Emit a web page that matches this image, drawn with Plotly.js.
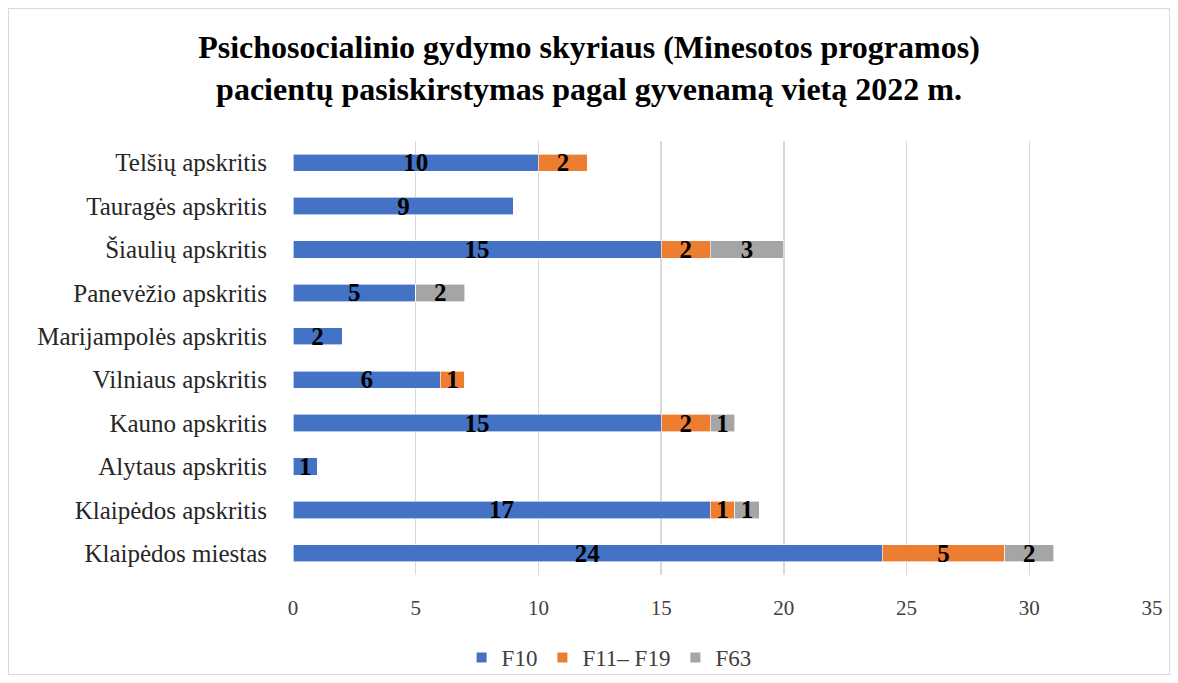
<!DOCTYPE html>
<html>
<head>
<meta charset="utf-8">
<script src="https://cdn.plot.ly/plotly-3.0.1.min.js"></script>
<style>
  html, body { margin: 0; padding: 0; background: #ffffff; }
  #wrap { position: relative; width: 1178px; height: 683px; }
  #chart { width: 1178px; height: 683px; }
  #frame { position: absolute; left: 8px; top: 8px; width: 1162px; height: 667px;
           border: 1.5px solid #d9d9d9; box-sizing: border-box; pointer-events: none; }
</style>
</head>
<body>
<div id="wrap">
  <div id="chart"></div>
  <div id="frame"></div>
</div>
<script>
const categories = [
  "Klaipėdos miestas",
  "Klaipėdos apskritis",
  "Alytaus apskritis",
  "Kauno apskritis",
  "Vilniaus apskritis",
  "Marijampolės apskritis",
  "Panevėžio apskritis",
  "Šiaulių apskritis",
  "Tauragės apskritis",
  "Telšių apskritis"
];
const seriesNames = ["F10", "F11– F19", "F63"];
const f10 = [24, 17, 1, 15, 6, 2, 5, 15, 9, 10];
const f11_19 = [5, 1, 0, 2, 1, 0, 0, 2, 0, 2];
const f63 = [2, 1, 0, 1, 0, 0, 2, 3, 0, 0];
const colors = ["#4472C4", "#ED7D31", "#A5A5A5"];
const xTicks = [0, 5, 10, 15, 20, 25, 30, 35];

const serif = "'Liberation Serif', 'Times New Roman', serif";

function makeTrace(name, vals, color) {
  return {
    type: "bar",
    orientation: "h",
    name: name,
    y: categories,
    x: vals,
    text: vals.map(v => v > 0 ? String(v) : ""),
    textposition: "inside",
    insidetextanchor: "middle",
    constraintext: "none",
    textangle: 0,
    textfont: { family: serif, size: 25, color: "#000000", weight: "bold" },
    marker: { color: color, line: { color: "#ffffff", width: 0.6 } },
    hoverinfo: "x+y+name"
  };
}

const data = [
  makeTrace(seriesNames[0], f10, colors[0]),
  makeTrace(seriesNames[1], f11_19, colors[1]),
  makeTrace(seriesNames[2], f63, colors[2])
];

const layout = {
  width: 1178,
  height: 683,
  barmode: "stack",
  bargap: 0.6,
  paper_bgcolor: "rgba(0,0,0,0)",
  plot_bgcolor: "#ffffff",
  margin: { l: 293, r: 26, t: 141, b: 108, autoexpand: false },
  title: {
    text: "<b>Psichosocialinio gydymo skyriaus (Minesotos programos)<br>pacientų pasiskirstymas pagal gyvenamą vietą 2022 m.</b>",
    font: { family: serif, size: 32, color: "#000000" },
    x: 0.5, xanchor: "center",
    yref: "container",
    y: 0.915, yanchor: "top"
  },
  xaxis: {
    range: [0, 35],
    tickvals: xTicks,
    ticktext: xTicks.map(String),
    showgrid: true,
    gridcolor: "#d9d9d9",
    gridwidth: 1.5,
    zeroline: false,
    showline: false,
    ticks: "",
    ticklen: 0,
    ticklabelstandoff: 18,
    tickfont: { family: serif, size: 21, color: "#404040" },
    fixedrange: true
  },
  yaxis: {
    type: "category",
    categoryorder: "array",
    categoryarray: categories,
    showgrid: false,
    zeroline: false,
    showline: false,
    ticks: "outside",
    ticklen: 20,
    tickcolor: "rgba(0,0,0,0)",
    tickfont: { family: serif, size: 25, color: "#262626" },
    fixedrange: true
  },
  legend: {
    orientation: "h",
    x: 0.368, xanchor: "center",
    y: -0.19, yanchor: "middle",
    font: { family: serif, size: 23, color: "#404040" },
    traceorder: "normal",
    itemwidth: 30,
    itemsizing: "constant"
  },
  uniformtext: { mode: "show", minsize: 25 },
  showlegend: true
};

Plotly.newPlot("chart", data, layout, { displayModeBar: false, staticPlot: true });
</script>
</body>
</html>
